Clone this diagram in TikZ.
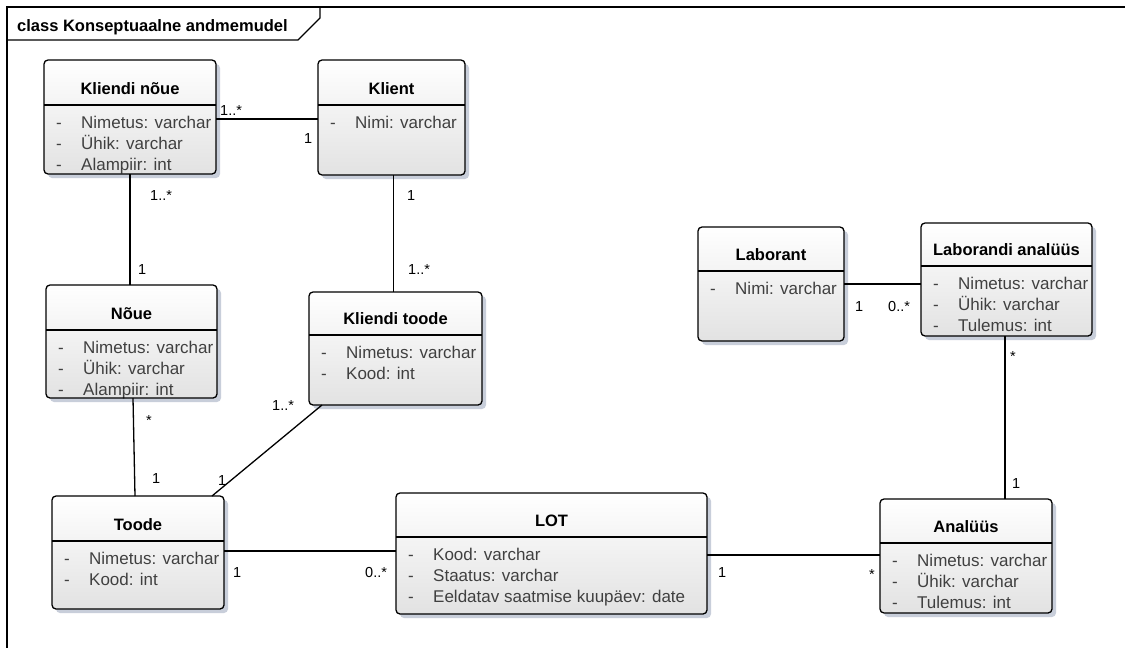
\documentclass[tikz,border=0pt]{standalone}
\usepackage{fontspec}
\setmainfont{Liberation Sans}
\usetikzlibrary{calc}

\definecolor{boxgrey}{RGB}{226,226,226}
\definecolor{boxshade}{RGB}{200,206,218}
\definecolor{attrgrey}{RGB}{64,64,64}

\tikzset{
  boxline/.style={draw=black, line width=1.3pt},
  boxshadow/.style={fill=boxshade},
  classbody/.style={top color=white, bottom color=boxgrey, inner sep=0pt, outer sep=0pt, rounded corners=4pt},
  classtitle/.style={inner sep=0pt, font=\fontsize{16.5}{19}\selectfont\bfseries, text=black},
  attrtext/.style={inner sep=0pt, font=\fontsize{17}{20}\selectfont, text=attrgrey},
  mult/.style={inner sep=0pt, anchor=base west, font=\fontsize{14.5}{17}\selectfont, text=black},
  assoc/.style={draw=black, line width=1.3pt},
  framebox/.style={draw=black, line width=1.2pt},
}

% #1 name, #2 x, #3 y, #4 width, #5 height, #6 header height, #7 title, #8 attributes
\newcommand\umlclass[8]{%
  \fill[boxshadow, rounded corners=4pt] (#2+4,#3+4) rectangle (#2+#4+4,#3+#5+4);
  \node[classbody, minimum width=#4pt, minimum height=#5pt, anchor=north west] (#1) at (#2,#3) {};
  \begin{scope}
    \clip[rounded corners=4pt] (#1.north west) rectangle (#1.south east);
    \node[classtitle, anchor=base] (#1-title) at (#2+#4/2,#3+#6-11) {#7};
    \foreach \a [count=\i] in {#8} {
      \node[attrtext, anchor=base west] (#1-dash-\i) at (#2+12,#3+#6+2+21*\i) {-};
      \node[attrtext, anchor=base west] (#1-attr-\i) at (#2+37,#3+#6+2+21*\i) {\a};
    }
  \end{scope}
  \draw[boxline, rounded corners=4pt] (#1.north west) rectangle (#1.south east);
  \draw[boxline] (#2,#3+#6) -- (#2+#4,#3+#6);
}

\begin{document}
\begin{tikzpicture}[x=1pt, y=-1pt]
  \useasboundingbox (0,0) rectangle (1125,648);
  \fill[white] (0,0) rectangle (1125,648);

  % diagram frame with its name tab
  \draw[framebox] (7,660) -- (7,7) -- (1130,7);
  \draw[framebox] (7,40) -- (298,40) -- (320,18) -- (320,7);
  \node[inner sep=0pt, anchor=base west, font=\fontsize{16.5}{19}\selectfont\bfseries] (frametitle) at (17,31) {class Konseptuaalne andmemudel};

  % classes
  \umlclass{kn}{44}{60}{172}{114}{45}{Kliendi nõue}{Nimetus: varchar, Ühik: varchar, Alampiir: int}
  \umlclass{kl}{318}{60}{147}{115}{45}{Klient}{Nimi: varchar}
  \umlclass{no}{46}{285}{171}{113}{45}{Nõue}{Nimetus: varchar, Ühik: varchar, Alampiir: int}
  \umlclass{kt}{309}{292}{173}{113}{43}{Kliendi toode}{Nimetus: varchar, Kood: int}
  \umlclass{lb}{698}{227}{146}{114}{44}{Laborant}{Nimi: varchar}
  \umlclass{la}{921}{223}{171}{113}{43}{Laborandi analüüs}{Nimetus: varchar, Ühik: varchar, Tulemus: int}
  \umlclass{to}{52}{496}{172}{113}{45}{Toode}{Nimetus: varchar, Kood: int}
  \umlclass{lot}{396}{493}{311}{121}{44}{LOT}{Kood: varchar, Staatus: varchar, Eeldatav saatmise kuupäev: date}
  \umlclass{an}{880}{499}{172}{114}{44}{Analüüs}{Nimetus: varchar, Ühik: varchar, Tulemus: int}

  % associations
  \draw[assoc] ([yshift=-2pt]kn.east) -- ([yshift=-2pt]kn.east -| kl.west);
  \draw[assoc] (kn.south) -- (kn.south |- no.north);
  \draw[assoc] ([xshift=2pt]kl.south) -- ([xshift=2pt]kl.south |- kt.north);
  \draw[assoc] ([xshift=1.5pt]no.south) -- ([xshift=-3pt]to.north);
  \draw[assoc] ([xshift=13pt]kt.south west) -- ([xshift=-12pt]to.north east);
  \draw[assoc] ([yshift=1.5pt]to.east) -- ([yshift=1.5pt]to.east -| lot.west);
  \draw[assoc] ([yshift=-1.5pt]lot.east) -- ([yshift=-1.5pt]lot.east -| an.west);
  \draw[assoc] (lb.east) -- (lb.east -| la.west);
  \draw[assoc] ([xshift=-1.5pt]la.south) -- ([xshift=-1.5pt]la.south |- an.north);

  % multiplicities
  \node[mult] (m1) at (220,115) {1..*};
  \node[mult] (m2) at (304,143) {1};
  \node[mult] (m3) at (150,200) {1..*};
  \node[mult] (m4) at (407,200) {1};
  \node[mult] (m5) at (138,274) {1};
  \node[mult] (m6) at (408,274) {1..*};
  \node[mult] (m7) at (146,425) {*};
  \node[mult] (m8) at (152,483) {1};
  \node[mult] (m9) at (272,410) {1..*};
  \node[mult] (m10) at (218,485) {1};
  \node[mult] (m11) at (233,577) {1};
  \node[mult] (m12) at (365,577) {0..*};
  \node[mult] (m13) at (718,577) {1};
  \node[mult] (m14) at (869,579) {*};
  \node[mult] (m15) at (855,311) {1};
  \node[mult] (m16) at (888,311) {0..*};
  \node[mult] (m17) at (1010,361) {*};
  \node[mult] (m18) at (1012,488) {1};
\end{tikzpicture}
\end{document}
